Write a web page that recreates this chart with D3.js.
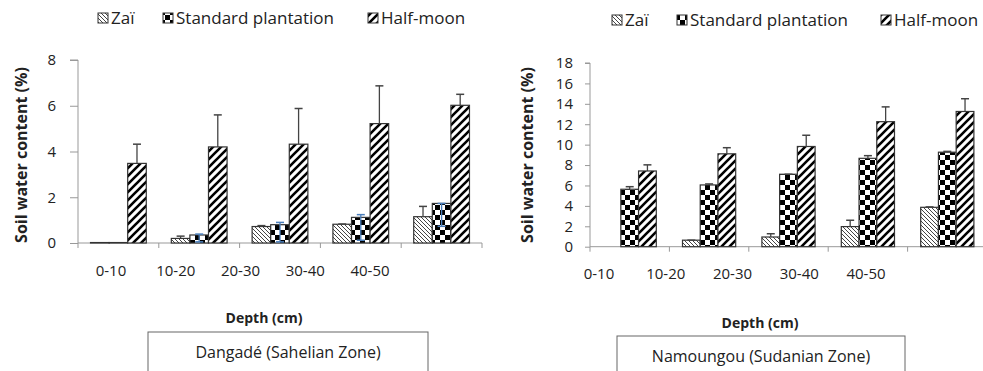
<!DOCTYPE html>
<html>
<head>
<meta charset="utf-8">
<script src="https://cdn.jsdelivr.net/npm/d3@7"></script>
<style>
  body { margin: 0; background: #fff; }
  svg { display: block; }
  text { font-family: "Open Sans", sans-serif; fill: #222; }
  .ttl { font-weight: bold; }
</style>
</head>
<body>
<svg id="viz" width="983" height="371"></svg>
<script>
var depths = ["0-10", "10-20", "20-30", "30-40", "40-50"];
var seriesNames = ["Zaï", "Standard plantation", "Half-moon"];

// Dangadé (Sahelian Zone)
var dangZai = [0.02, 0.2, 0.72, 0.82, 1.15];
var dangZaiErr = [0, 0.1, 0.04, 0.01, 0.45];
var dangSp = [0.02, 0.35, 0.8, 1.12, 1.73];
var dangSpErr = [0, 0.04, 0.1, 0.12, 0];
var dangSpErrDown = [0, 0.3, 0.75, 1.0, 1.0];
var dangHm = [3.48, 4.2, 4.32, 5.22, 6.02];
var dangHmErr = [0.84, 1.4, 1.56, 1.65, 0.48];
var dangTicks = [0, 2, 4, 6, 8];

// Namoungou (Sudanian Zone)
var namZai = [0, 0.64, 0.95, 1.97, 3.86];
var namZaiErr = [0, 0, 0.32, 0.62, 0.04];
var namSp = [5.63, 6.05, 7.1, 8.66, 9.26];
var namSpErr = [0.25, 0.1, 0, 0.26, 0.08];
var namHm = [7.42, 9.1, 9.82, 12.25, 13.25];
var namHmErr = [0.6, 0.6, 1.1, 1.45, 1.25];
var namTicks = [0, 2, 4, 6, 8, 10, 12, 14, 16, 18];

var svg = d3.select("#viz");
var defs = svg.append("defs");

// fill patterns
var pz = defs.append("pattern").attr("id", "p-zai")
  .attr("patternUnits", "userSpaceOnUse").attr("width", 4).attr("height", 4);
pz.append("rect").attr("width", 4).attr("height", 4).attr("fill", "#fff");
pz.append("path").attr("d", "M0,0L4,4M-1,3L1,5M3,-1L5,1")
  .attr("stroke", "#444").attr("stroke-width", 1);

var ps = defs.append("pattern").attr("id", "p-sp")
  .attr("patternUnits", "userSpaceOnUse").attr("width", 10).attr("height", 10);
ps.append("rect").attr("width", 10).attr("height", 10).attr("fill", "#fff");
ps.append("rect").attr("width", 5).attr("height", 5).attr("fill", "#000");
ps.append("rect").attr("x", 5).attr("y", 5).attr("width", 5).attr("height", 5).attr("fill", "#000");

var ph = defs.append("pattern").attr("id", "p-hm")
  .attr("patternUnits", "userSpaceOnUse").attr("width", 8).attr("height", 8);
ph.append("rect").attr("width", 8).attr("height", 8).attr("fill", "#fff");
ph.append("path").attr("d", "M0,8L8,0M-2,2L2,-2M6,10L10,6")
  .attr("stroke", "#000").attr("stroke-width", 2.6);

var fills = ["url(#p-zai)", "url(#p-sp)", "url(#p-hm)"];

function drawPanel(p) {
  var g = svg.append("g");

  var x0 = d3.scaleBand().domain(depths).range(p.xRange)
    .paddingInner(p.pad).paddingOuter(p.pad / 2);
  var x1 = d3.scaleBand().domain(seriesNames).range([0, x0.bandwidth()]);
  var y = d3.scaleLinear().domain([0, p.yMax]).range(p.yRange);

  // y axis
  var ya = g.append("g")
    .attr("transform", "translate(" + p.xRange[0] + ",0)")
    .call(d3.axisLeft(y).tickValues(p.ticks).tickSize(p.tickLen).tickPadding(p.tickPad));
  ya.select(".domain").attr("stroke", "#999").attr("d",
    "M0," + p.yRange[0] + "V" + p.yRange[1] + "H-" + p.tickLen);
  ya.selectAll(".tick line").attr("stroke", "#999");
  ya.selectAll(".tick text").style("font-size", "15px").attr("fill", "#222");

  // x axis with ticks at band boundaries
  g.append("line")
    .attr("x1", p.xRange[0]).attr("x2", p.xRange[1])
    .attr("y1", y(0)).attr("y2", y(0)).attr("stroke", "#999");
  g.selectAll(".bnd").data(d3.range(depths.length + 1)).enter().append("line")
    .attr("x1", function (i) { return p.xRange[0] + i * x0.step(); })
    .attr("x2", function (i) { return p.xRange[0] + i * x0.step(); })
    .attr("y1", y(0)).attr("y2", y(0) + 5).attr("stroke", "#999");

  var series = [
    { name: seriesNames[0], vals: p.zai, err: p.zaiErr, color: "#444" },
    { name: seriesNames[1], vals: p.sp, err: p.spErr, down: p.spErrDown, color: p.spErrColor },
    { name: seriesNames[2], vals: p.hm, err: p.hmErr, color: "#444" }
  ];

  series.forEach(function (s, si) {
    var bx = function (d, i) { return x0(depths[i]) + x1(s.name); };
    g.selectAll(".bar" + si).data(s.vals).enter().append("rect")
      .attr("x", bx)
      .attr("y", function (d) { return y(d); })
      .attr("width", x1.bandwidth())
      .attr("height", function (d) { return y(0) - y(d); })
      .attr("fill", fills[si])
      .attr("stroke", "#333").attr("stroke-width", 1.2);

    // error bars
    s.vals.forEach(function (v, i) {
      if (v < 0.1) return;
      var cx = bx(v, i) + x1.bandwidth() / 2;
      var top = v + s.err[i];
      var bot = s.down ? v - s.down[i] : v;
      g.append("line").attr("x1", cx).attr("x2", cx)
        .attr("y1", y(bot)).attr("y2", y(top))
        .attr("stroke", s.color).attr("stroke-width", 1.3);
      g.append("line").attr("x1", cx - 4).attr("x2", cx + 4)
        .attr("y1", y(top)).attr("y2", y(top))
        .attr("stroke", s.color).attr("stroke-width", 1.5);
      if (s.down) {
        g.append("line").attr("x1", cx - 4).attr("x2", cx + 4)
          .attr("y1", y(bot)).attr("y2", y(bot))
          .attr("stroke", s.color).attr("stroke-width", 1.5);
      }
    });
  });

  // category labels
  var lab = d3.scaleBand().domain(depths).range(p.labRange);
  var xa = g.append("g")
    .attr("transform", "translate(0," + p.labY + ")")
    .call(d3.axisBottom(lab).tickSize(0).tickPadding(0));
  xa.select(".domain").remove();
  xa.selectAll(".tick text").style("font-size", "15px").attr("fill", "#222");

  // axis titles
  g.append("text").attr("class", "ttl")
    .attr("transform", "translate(" + p.yTitleX + "," + p.yTitleY + ") rotate(-90)")
    .attr("text-anchor", "middle").attr("dy", "0.35em")
    .style("font-size", "16px").text("Soil water content (%)");
  g.append("text").attr("class", "ttl")
    .attr("x", p.xTitle[0]).attr("y", p.xTitle[1])
    .attr("text-anchor", "middle").attr("dy", "0.35em")
    .style("font-size", "14px").text("Depth (cm)");

  // site box
  g.append("rect").attr("x", p.box[0]).attr("y", p.box[1])
    .attr("width", p.box[2]).attr("height", 60)
    .attr("fill", "#fff").attr("stroke", "#666");
  g.append("text")
    .attr("x", p.box[0] + p.box[2] / 2).attr("y", p.boxTextY)
    .attr("text-anchor", "middle").attr("dy", "0.35em")
    .style("font-size", "16px").text(p.site);

  // legend
  seriesNames.forEach(function (n, i) {
    g.append("rect").attr("x", p.leg[i]).attr("y", p.legY - 5)
      .attr("width", 10).attr("height", 10)
      .attr("fill", fills[i]).attr("stroke", "#333");
    g.append("text").attr("x", p.leg[i] + 13).attr("y", p.legY)
      .attr("dy", "0.35em").style("font-size", "17px").text(n);
  });
}

drawPanel({
  zai: dangZai, zaiErr: dangZaiErr, sp: dangSp, spErr: dangSpErr,
  spErrDown: dangSpErrDown, spErrColor: "#4a7ebb", hm: dangHm, hmErr: dangHmErr,
  yMax: 8, ticks: dangTicks,
  xRange: [78, 482], yRange: [243, 60], pad: 0.31,
  tickLen: 8, tickPad: 14,
  labRange: [78.6, 402.4], labY: 265,
  yTitleX: 21, yTitleY: 155, xTitle: [264, 318],
  box: [148, 332, 280], boxTextY: 352,
  site: "Dangadé (Sahelian Zone)",
  leg: [98, 163, 368], legY: 18
});

drawPanel({
  zai: namZai, zaiErr: namZaiErr, sp: namSp, spErr: namSpErr,
  spErrColor: "#444", hm: namHm, hmErr: namHmErr,
  yMax: 18, ticks: namTicks,
  xRange: [590, 987], yRange: [246.7, 63], pad: 0.33,
  tickLen: 5, tickPad: 12,
  labRange: [565.6, 899.4], labY: 268,
  yTitleX: 527, yTitleY: 155, xTitle: [760, 323],
  box: [617, 336, 288], boxTextY: 356,
  site: "Namoungou (Sudanian Zone)",
  leg: [612, 677, 881], legY: 20
});
</script>
</body>
</html>
